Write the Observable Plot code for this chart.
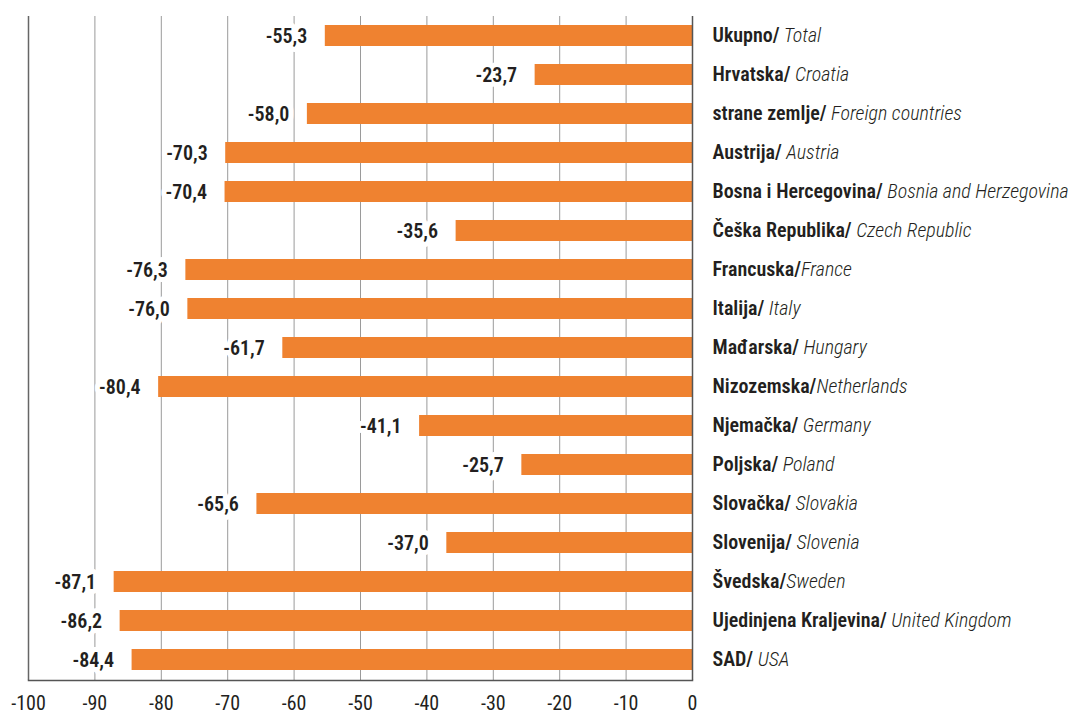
<!DOCTYPE html>
<html><head><meta charset="utf-8">
<script src="https://cdn.jsdelivr.net/npm/d3@7"></script>
<script src="https://cdn.jsdelivr.net/npm/@observablehq/plot@0.6"></script>
<style>body{margin:0;background:#fff}</style>
</head><body><div id="chart"></div>
<script>
const hrNames = ["Ukupno/", "Hrvatska/", "strane zemlje/", "Austrija/", "Bosna i Hercegovina/", "Češka Republika/", "Francuska/", "Italija/", "Mađarska/", "Nizozemska/", "Njemačka/", "Poljska/", "Slovačka/", "Slovenija/", "Švedska/", "Ujedinjena Kraljevina/", "SAD/"];
const enNames = [" Total", " Croatia", " Foreign countries", " Austria", " Bosnia and Herzegovina", " Czech Republic", "France", " Italy", " Hungary", "Netherlands", " Germany", " Poland", " Slovakia", " Slovenia", "Sweden", " United Kingdom", " USA"];
const values = [-55.3, -23.7, -58.0, -70.3, -70.4, -35.6, -76.3, -76.0, -61.7, -80.4, -41.1, -25.7, -65.6, -37.0, -87.1, -86.2, -84.4];
const xTicks = [-100, -90, -80, -70, -60, -50, -40, -30, -20, -10, 0];

const data = hrNames.map((h, i) => ({key: i, hr: h, en: enNames[i], value: values[i]}));
const fmt = v => v.toFixed(1).replace(".", ",");
const FONT = "'Roboto Condensed', 'Liberation Sans Narrow', Roboto, sans-serif";

const chart = Plot.plot({
  width: 1074, height: 716,
  marginLeft: 28, marginRight: 382, marginTop: 16, marginBottom: 36,
  style: {fontFamily: FONT, color: "#231f20", background: "#fff"},
  x: {domain: [-100, 0], ticks: xTicks, label: null},
  y: {domain: data.map(d => d.key), paddingInner: 0.46, paddingOuter: 0.23, label: null},
  marks: [
    Plot.gridX(xTicks.slice(1, -1), {stroke: "#9a9a9a", strokeOpacity: 1}),
    Plot.barX(data, {x: "value", y: "key", fill: "#ef8230"}),
    Plot.text(data, {x: "value", y: "key", text: d => fmt(d.value), textAnchor: "end", dx: -18, dy: 1,
      fill: "#231f20", stroke: "white", strokeWidth: 10, fontSize: 20, fontWeight: "600"}),
    Plot.ruleX([-100], {stroke: "#666", strokeWidth: 1.5}),
    Plot.ruleX([0], {stroke: "#555", strokeWidth: 1.5}),
    Plot.frame({anchor: "bottom", stroke: "#555", strokeWidth: 1.5}),
    Plot.axisX(xTicks, {tickSize: 0, tickPadding: 15, fontSize: 20, fill: "#231f20", tickFormat: d => String(d), label: null}),
    Plot.axisY({anchor: "right", tickSize: 0, tickPadding: 20, textAnchor: "start", fontSize: 20, fill: "#231f20",
      tickFormat: i => hrNames[i] + "|" + enNames[i], label: null})
  ]
});

// split labels into bold Croatian and italic English parts
d3.select(chart).selectAll("g[aria-label='y-axis tick label'] text").each(function() {
  const t = d3.select(this);
  const s = t.text();
  const [a, b] = s.split("|");
  t.text(null).style("white-space", "pre");
  t.append("tspan").attr("font-weight", "600").text(a);
  t.append("tspan").attr("font-style", "italic").attr("font-weight", "300").text(b);
});
document.getElementById("chart").append(chart);
</script>
</body></html>
